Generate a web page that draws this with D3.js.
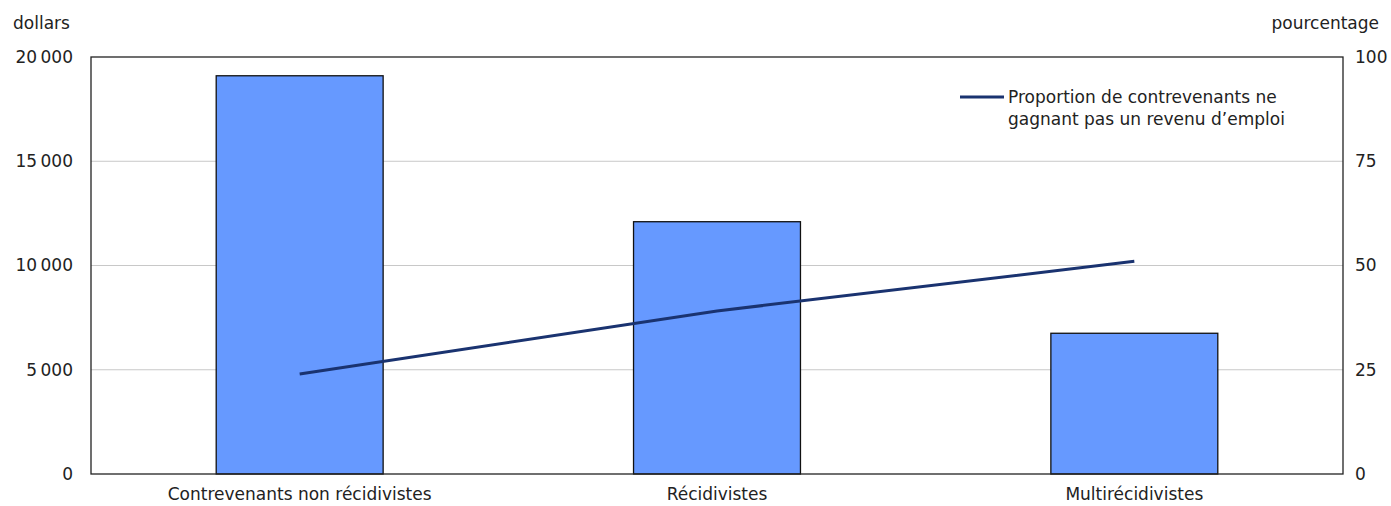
<!DOCTYPE html>
<html>
<head>
<meta charset="utf-8">
<script src="https://cdn.jsdelivr.net/npm/d3@7"></script>
<style>
  body { margin: 0; background: #fff; }
  svg text { font-family: "DejaVu Sans", Verdana, sans-serif; fill: #222; }
</style>
</head>
<body>
<div id="chart"></div>
<script>
// Revenu d'emploi moyen et proportion sans revenu d'emploi

const categories = ['Contrevenants non récidivistes', 'Récidivistes', 'Multirécidivistes'];
const incomeValues = [19100, 12100, 6750];        // dollars (barres)
const noIncomeShare = [24.0, 39.1, 51.0];         // pourcentage (ligne)
const leftTicks = [0, 5000, 10000, 15000, 20000];
const rightTicks = [0, 25, 50, 75, 100];
const legendLines = ['Proportion de contrevenants ne', 'gagnant pas un revenu d\u2019emploi'];

function drawChart() {
    const width = 1391;
    const height = 506;
    const margin = { top: 57, right: 48, bottom: 32, left: 91 };
    const innerW = width - margin.left - margin.right;
    const innerH = height - margin.top - margin.bottom;
    const fontSize = '17px';

    const svg = d3.select('#chart').append('svg')
        .attr('width', width)
        .attr('height', height);

    const g = svg.append('g')
        .attr('transform', `translate(${margin.left},${margin.top})`);

    const x = d3.scaleBand()
        .domain(categories)
        .range([0, innerW])
        .paddingInner(0.6)
        .paddingOuter(0.3);

    const yLeft = d3.scaleLinear().domain([0, 20000]).range([innerH, 0]);
    const yRight = d3.scaleLinear().domain([0, 100]).range([innerH, 0]);

    const fmt = v => d3.format(',')(v).replace(/,/g, '\u2009');

    // Gridlines
    g.append('g')
        .selectAll('line')
        .data(leftTicks.filter(d => d > 0 && d < 20000))
        .enter().append('line')
        .attr('x1', 0).attr('x2', innerW)
        .attr('y1', d => yLeft(d)).attr('y2', d => yLeft(d))
        .attr('stroke', '#c8c8c8')
        .attr('stroke-width', 1);

    // Bars
    g.selectAll('.bar')
        .data(categories)
        .enter().append('rect')
        .attr('class', 'bar')
        .attr('x', d => x(d))
        .attr('y', (d, i) => yLeft(incomeValues[i]))
        .attr('width', x.bandwidth())
        .attr('height', (d, i) => innerH - yLeft(incomeValues[i]))
        .attr('fill', '#6699ff')
        .attr('stroke', '#111')
        .attr('stroke-width', 1.3);

    // Line
    const line = d3.line()
        .x((d, i) => x(categories[i]) + x.bandwidth() / 2)
        .y(d => yRight(d));

    g.append('path')
        .datum(noIncomeShare)
        .attr('d', line)
        .attr('fill', 'none')
        .attr('stroke', '#1a3370')
        .attr('stroke-width', 3);

    // Frame
    g.append('rect')
        .attr('x', 0).attr('y', 0)
        .attr('width', innerW).attr('height', innerH)
        .attr('fill', 'none')
        .attr('stroke', '#222')
        .attr('stroke-width', 1.3);

    // Left axis
    const leftAxis = g.append('g')
        .call(d3.axisLeft(yLeft).tickValues(leftTicks).tickSize(0).tickPadding(18).tickFormat(fmt));
    leftAxis.select('.domain').remove();
    leftAxis.selectAll('text').style('font-size', fontSize);

    // Right axis
    const rightAxis = g.append('g')
        .attr('transform', `translate(${innerW},0)`)
        .call(d3.axisRight(yRight).tickValues(rightTicks).tickSize(0).tickPadding(12));
    rightAxis.select('.domain').remove();
    rightAxis.selectAll('text').style('font-size', fontSize);

    // Category axis
    const bottomAxis = g.append('g')
        .attr('transform', `translate(0,${innerH})`)
        .call(d3.axisBottom(x).tickSize(0).tickPadding(14));
    bottomAxis.select('.domain').remove();
    bottomAxis.selectAll('text').style('font-size', fontSize);

    // Axis titles
    svg.append('text')
        .attr('x', 13).attr('y', 29)
        .style('font-size', fontSize)
        .text('dollars');

    svg.append('text')
        .attr('x', 1379).attr('y', 29)
        .attr('text-anchor', 'end')
        .style('font-size', fontSize)
        .text('pourcentage');

    // Legend
    const legend = svg.append('g')
        .attr('transform', 'translate(960,97)');

    legend.append('line')
        .attr('x1', 0).attr('x2', 44)
        .attr('y1', 0).attr('y2', 0)
        .attr('stroke', '#1a3370')
        .attr('stroke-width', 3);

    legend.selectAll('.leg-text')
        .data(legendLines)
        .enter().append('text')
        .attr('class', 'leg-text')
        .attr('x', 48)
        .attr('y', (d, i) => 6 + i * 22)
        .style('font-size', fontSize)
        .text(d => d);
}

drawChart();
</script>
</body>
</html>
